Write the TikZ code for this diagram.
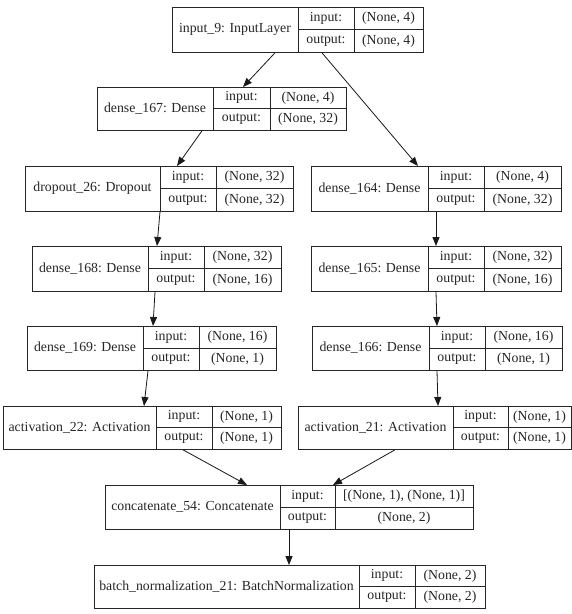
\documentclass[tikz,border=0pt]{standalone}
\usepackage{fontspec}
\setmainfont{Liberation Serif}
\usetikzlibrary{arrows.meta}
\tikzset{
  x=1pt,y=-1pt,
  box/.style={draw=black!85, line width=0.8pt, inner sep=0pt, anchor=north west},
  sep/.style={draw=black!85, line width=0.8pt},
  lbl/.style={font=\fontsize{13.8}{15}\selectfont, inner sep=0pt, text=black!85},
  arr/.style={draw=black!90, line width=0.8pt, -{Triangle[length=9pt,width=7pt]}}
}
% name, x1, y1, x2, y2, d1, d2, label
\newcommand\recbox[8]{%
  \node[box, minimum width={#4-#2}, minimum height={#5-#3}] (#1) at (#2,#3) {};
  \draw[sep] (#6,#3) -- (#6,#5);
  \draw[sep] (#7,#3) -- (#7,#5);
  \draw[sep] (#6,{(#3+#5)/2}) -- (#4,{(#3+#5)/2});
  \node[lbl] (#1-l) at ({(#2+#6)/2},{(#3+#5)/2}) {#8};
  \gdef\rA{#6}\gdef\rB{#7}\gdef\rR{#4}\gdef\rT{#3}\gdef\rD{#5}\gdef\rN{#1}%
}
% input value, output value
\newcommand\recio[2]{%
  \node[lbl] (\rN-ik) at ({(\rA+\rB)/2},{(3*\rT+\rD)/4}) {input:};
  \node[lbl] (\rN-ok) at ({(\rA+\rB)/2},{(\rT+3*\rD)/4}) {output:};
  \node[lbl] (\rN-iv) at ({(\rB+\rR)/2},{(3*\rT+\rD)/4}) {#1};
  \node[lbl] (\rN-ov) at ({(\rB+\rR)/2},{(\rT+3*\rD)/4}) {#2};
}
\begin{document}
\begin{tikzpicture}
\fill[white] (0,0) rectangle (572,614);
\useasboundingbox (0,0) rectangle (572,614);

\recbox{in9}{172}{7}{423}{52}{298}{354}{input\_9: InputLayer}
\recio{(None, 4)}{(None, 4)}

\recbox{d167}{97}{87}{346}{130}{213}{270}{dense\_167: Dense}
\recio{(None, 4)}{(None, 32)}

\recbox{drop}{25}{166}{293}{211}{160}{216}{dropout\_26: Dropout}
\recio{(None, 32)}{(None, 32)}

\recbox{d164}{311}{166}{561}{211}{428}{484}{dense\_164: Dense}
\recio{(None, 4)}{(None, 32)}

\recbox{d168}{32}{246}{281}{291}{148}{204}{dense\_168: Dense}
\recio{(None, 32)}{(None, 16)}

\recbox{d165}{311}{246}{561}{291}{428}{484}{dense\_165: Dense}
\recio{(None, 32)}{(None, 16)}

\recbox{d169}{27}{326}{276}{370}{143}{199}{dense\_169: Dense}
\recio{(None, 16)}{(None, 1)}

\recbox{d166}{312}{326}{562}{370}{429}{485}{dense\_166: Dense}
\recio{(None, 16)}{(None, 1)}

\recbox{a22}{3}{406}{281}{449}{156}{212}{activation\_22: Activation}
\recio{(None, 1)}{(None, 1)}

\recbox{a21}{298}{406}{571}{449}{453}{508}{activation\_21: Activation}
\recio{(None, 1)}{(None, 1)}

\recbox{cat}{105}{485}{473}{529}{280}{335}{concatenate\_54: Concatenate}
\recio{[(None, 1), (None, 1)]}{(None, 2)}

\recbox{bn}{94}{565}{485}{608}{359}{415}{batch\_normalization\_21: BatchNormalization}
\recio{(None, 2)}{(None, 2)}

\draw[arr] ([xshift=103pt]in9.south west) -- ([xshift=146pt]d167.north west);
\draw[arr] ([xshift=150pt]in9.south west) -- ([xshift=107pt]d164.north west);
\draw[arr] ([xshift=105pt]d167.south west) -- ([xshift=152pt]drop.north west);
\draw[arr] ([xshift=135pt]drop.south west) -- ([xshift=125pt]d168.north west);
\draw[arr] ([xshift=123pt]d168.south west) -- ([xshift=126pt]d169.north west);
\draw[arr] ([xshift=121pt]d169.south west) -- ([xshift=141pt]a22.north west);
\draw[arr] ([xshift=125pt]d164.south west) -- ([xshift=125pt]d165.north west);
\draw[arr] ([xshift=125pt]d165.south west) -- ([xshift=125pt]d166.north west);
\draw[arr] ([xshift=125pt]d166.south west) -- ([xshift=140pt]a21.north west);
\draw[arr] ([xshift=180pt]a22.south west) -- ([xshift=142pt]cat.north west);
\draw[arr] ([xshift=97pt]a21.south west) -- ([xshift=228pt]cat.north west);
\draw[arr] ([xshift=184pt]cat.south west) -- ([xshift=195pt]bn.north west);
\end{tikzpicture}
\end{document}
